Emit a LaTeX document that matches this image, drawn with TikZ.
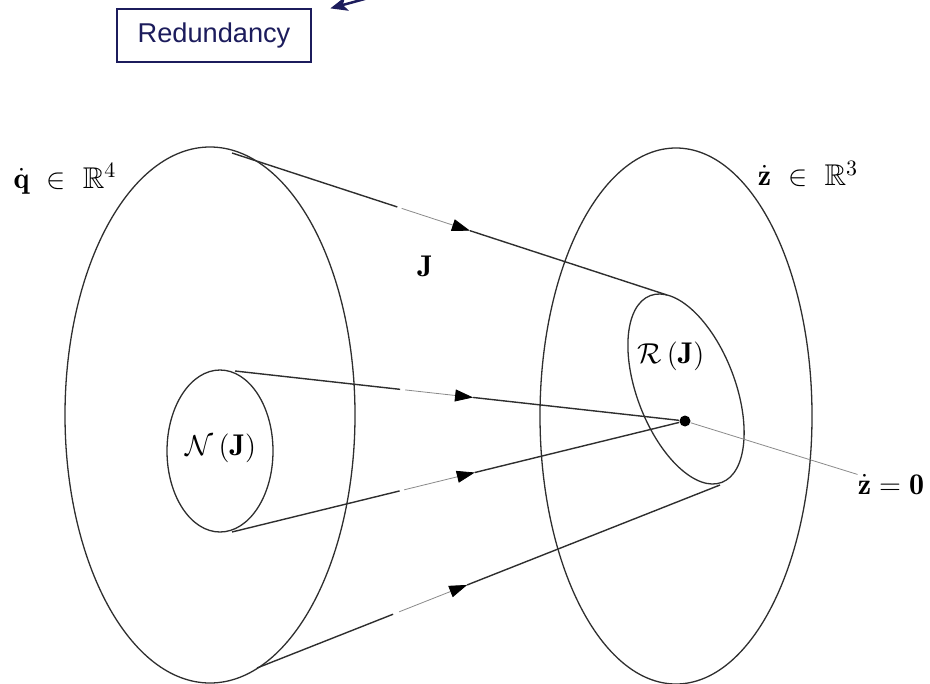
\documentclass[tikz,border=0pt]{standalone}
\usepackage{amsmath,amssymb}
\usepackage{fontspec}
\newfontfamily\arialfont{Liberation Sans}
\usetikzlibrary{arrows.meta,calc,shapes.geometric}
\definecolor{navyline}{HTML}{1C1C5C}
\definecolor{lineblk}{HTML}{2E2E2E}
\definecolor{fadegray}{HTML}{8A8A8A}
\tikzset{
  conn/.style={draw=lineblk,line width=0.7pt},
  connfade/.style={draw=fadegray,line width=0.4pt},
  rim/.style={draw=lineblk,line width=0.65pt},
  mlabel/.style={inner sep=0pt,font=\fontsize{15}{18}\selectfont},
  redbox/.style={draw=navyline,line width=1pt,minimum width=97pt,minimum height=26.5pt,
     inner sep=0pt,text=navyline,font=\arialfont\fontsize{13.6}{16}\selectfont},
  tri/.style={-{Triangle[length=9pt,width=6pt,color=black]}}
}
\newcommand{\fadedconn}[5]{%
  \draw[conn] (#1) -- ($(#1)!#3!(#2)$);
  \draw[connfade,tri] ($(#1)!#4!(#2)$) -- ($(#1)!#5!(#2)$);
  \draw[conn] ($(#1)!#5!(#2)$) -- (#2);}
\begin{document}
\begin{tikzpicture}[x=0.5pt,y=-0.5pt]
\useasboundingbox (0,0) rectangle (930,684);
% ellipses
\draw[rim] (210,415) ellipse (145 and 268);
\draw[rim] (676,416) ellipse (136 and 268);
\draw[rim] (220,451) ellipse (53 and 81);
\draw[rim,rotate around={21:(686,389)}] (686,389) ellipse (49 and 100);
% tangent points
\coordinate (Ltop) at (232,153);
\coordinate (Lbot) at (257,668);
\coordinate (Ntop) at (235,371);
\coordinate (Nbot) at (232,532);
\coordinate (Rtop) at (667,295);
\coordinate (Rbot) at (720,485);
\node[circle,fill=black,inner sep=0pt,minimum size=5.5pt] (dot) at (685,421) {};
% connectors
\fadedconn{Ltop}{Rtop}{0.38}{0.39}{0.547}
\fadedconn{Ntop}{dot}{0.367}{0.378}{0.529}
\fadedconn{Nbot}{dot}{0.37}{0.38}{0.536}
\fadedconn{Lbot}{Rbot}{0.294}{0.307}{0.454}
% labels
\node[mlabel] (q) at (65,179) {$\dot{\mathbf{q}}\ \in\ \mathbb{R}^4$};
\node[mlabel] (zs) at (808,174) {$\dot{\mathbf{z}}\ \in\ \mathbb{R}^3$};
\node[mlabel] (J) at (425,266) {$\mathbf{J}$};
\node[mlabel] (RJ) at (671,356) {$\mathcal{R}\left(\mathbf{J}\right)$};
\node[mlabel] (NJ) at (221,448) {$\mathcal{N}\left(\mathbf{J}\right)$};
\node[mlabel] (z0) at (891,485) {$\dot{\mathbf{z}}=\mathbf{0}$};
\draw[connfade] (dot) -- (z0.north west);
% redundancy
\node[redbox] (red) at (214,35.5) {Redundancy};
\coordinate (redsrc) at (406,-12.3);
\draw[navyline,line width=1.25pt,-{Stealth[length=8.5pt,width=7pt,inset=2pt]},shorten >=9.5pt] (redsrc) -- ([yshift=-2.7pt]red.north east);
\end{tikzpicture}
\end{document}
